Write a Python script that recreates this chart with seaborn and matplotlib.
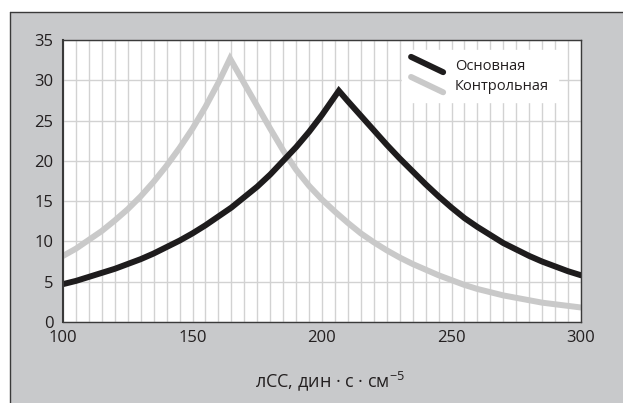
#Import the libraries : Pandas, Matplotlib and Seaborn
import pandas as pd
import matplotlib.pyplot as plt
import seaborn as sns
from matplotlib.lines import Line2D
from matplotlib.legend_handler import HandlerLine2D
from matplotlib.patches import Rectangle
from matplotlib.ticker import MultipleLocator

#Values
main_label = 'Основная'
main_x = [100, 105, 110, 115, 120, 125, 130, 135, 140, 145, 150, 155, 160, 165,
          170, 175, 180, 185, 190, 195, 200, 206.5,
          210, 215, 220, 225, 230, 235, 240, 245, 250, 255, 260, 265, 270, 275,
          280, 285, 290, 295, 300]
main_y = [4.7, 5.1, 5.6, 6.1, 6.6, 7.2, 7.8, 8.5, 9.3, 10.1, 11.0, 12.0, 13.1, 14.2,
          15.5, 16.8, 18.3, 20.0, 21.7, 23.6, 25.7, 28.7,
          27.4, 25.6, 23.8, 22.0, 20.3, 18.7, 17.1, 15.6, 14.2, 12.9, 11.8, 10.8, 9.8, 9.0,
          8.2, 7.5, 6.9, 6.3, 5.8]

ctrl_label = 'Контрольная'
ctrl_x = [100, 105, 110, 115, 120, 125, 130, 135, 140, 145, 150, 155, 160, 164.5,
          170, 175, 180, 185, 190, 195, 200, 205, 210, 215, 220, 225, 230, 235,
          240, 245, 250, 255, 260, 265, 270, 275, 280, 285, 290, 295, 300]
ctrl_y = [8.2, 9.1, 10.2, 11.3, 12.6, 14.0, 15.6, 17.4, 19.4, 21.6, 24.0, 26.7, 29.7, 32.7,
          29.6, 26.8, 24.0, 21.3, 18.9, 16.9, 15.2, 13.7, 12.3, 11.0, 9.9, 8.9, 8.0, 7.2,
          6.5, 5.8, 5.2, 4.6, 4.1, 3.7, 3.3, 3.0, 2.7, 2.4, 2.2, 2.0, 1.8]

x_title = 'лСС, дин · с · см$^{-5}$'


#Legend key drawn as a slanted stroke
class DiagonalHandler(HandlerLine2D):
	def create_artists(self, legend, orig_handle, xdescent, ydescent,
					   width, height, fontsize, trans):
		x0, x1 = -xdescent, width - xdescent
		ymid = height / 2 - ydescent
		dy = height * 0.75
		line = Line2D([x0, x1], [ymid + dy, ymid - dy])
		self.update_prop(line, orig_handle, legend)
		line.set_transform(trans)
		return [line]


sns.set_theme(style='white')
plt.rcParams['font.family'] = ['Open Sans', 'DejaVu Sans']
plt.rcParams['mathtext.fontset'] = 'custom'
plt.rcParams['mathtext.rm'] = 'Open Sans'
plt.rcParams['mathtext.it'] = 'Open Sans:italic'
plt.rcParams['mathtext.bf'] = 'Open Sans:bold'

df = pd.concat([
	pd.DataFrame({'x': ctrl_x, 'y': ctrl_y, 'group': ctrl_label}),
	pd.DataFrame({'x': main_x, 'y': main_y, 'group': main_label}),
], ignore_index=True)

fig = plt.figure(figsize=(6.23, 4.03), dpi=100)
fig.patch.set_facecolor('white')

#Grey panel behind the chart, dark edge only on top and left
left_edge = 10 / 623
top_edge = 1 - 12 / 403
fig.add_artist(Rectangle((left_edge, 0), 1 - left_edge, top_edge,
						 transform=fig.transFigure, facecolor='#c8c9cb',
						 edgecolor='none', zorder=0))
fig.add_artist(Line2D([left_edge, 1], [top_edge, top_edge], transform=fig.transFigure,
					  color='#3a3a3a', linewidth=1.0, zorder=0.5))
fig.add_artist(Line2D([left_edge, left_edge], [0, top_edge], transform=fig.transFigure,
					  color='#3a3a3a', linewidth=1.0, zorder=0.5))

ax = fig.add_axes([63 / 623, 1 - 322 / 403, 518 / 623, 282 / 403])
ax.set_facecolor('white')

sns.lineplot(data=df, x='x', y='y', hue='group', hue_order=[ctrl_label, main_label],
			 palette={main_label: '#1e1c1d', ctrl_label: '#c9c9c9'},
			 estimator=None, sort=False, linewidth=4.3, legend=False, ax=ax,
			 zorder=3)
for line in ax.lines:
	line.set_solid_capstyle('round')
	line.set_solid_joinstyle('miter')

ax.set_xlim(100, 300)
ax.set_ylim(0, 35)
ax.xaxis.set_major_locator(MultipleLocator(50))
ax.xaxis.set_minor_locator(MultipleLocator(25))
ax.yaxis.set_major_locator(MultipleLocator(5))

#Light grid every 5 units in both directions
for v in range(100, 301, 5):
	ax.axvline(v, color='#d2d2d2', linewidth=1.0, zorder=1)
for v in range(0, 36, 5):
	ax.axhline(v, color='#d2d2d2', linewidth=1.0, zorder=1)

ax.tick_params(axis='x', which='both', direction='in', length=3, width=1,
			   color='#3a3a3a', pad=6, labelsize=12, labelcolor='#231f20')
ax.tick_params(axis='y', length=0, pad=7, labelsize=12, labelcolor='#231f20')
for side in ['left', 'bottom', 'top', 'right']:
	ax.spines[side].set_color('#3a3a3a')
	ax.spines[side].set_linewidth(1.0)
	ax.spines[side].set_zorder(5)
ax.spines['left'].set_linewidth(1.5)

ax.set_xlabel(x_title, fontsize=13, color='#231f20')
ax.xaxis.set_label_coords(0.515, -0.168)
ax.set_ylabel('')

main_handle = ax.lines[1]
ctrl_handle = ax.lines[0]
leg = ax.legend([main_handle, ctrl_handle], [main_label, ctrl_label],
				handler_map={Line2D: DiagonalHandler()},
				loc='upper right', bbox_to_anchor=(0.955, 0.965), borderaxespad=0,
				frameon=True, facecolor='white', edgecolor='white', framealpha=1,
				fancybox=False, fontsize=10.5, handlelength=2.2, handletextpad=0.8,
				labelspacing=0.35, borderpad=0.6)
leg.set_zorder(6)
for t in leg.get_texts():
	t.set_color('#231f20')

fig.savefig('out.png', dpi=100)
